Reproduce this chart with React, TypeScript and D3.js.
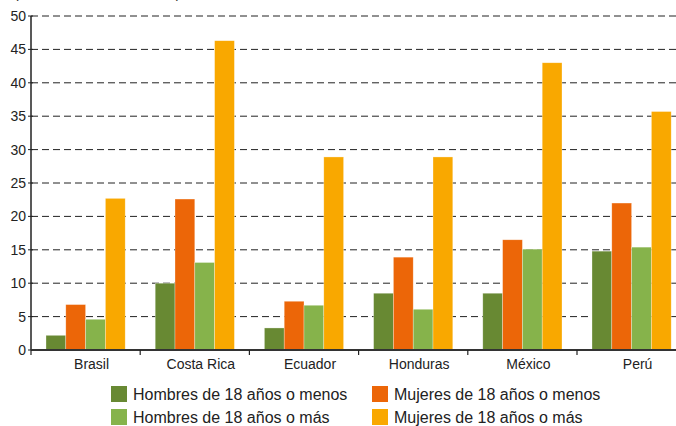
import React from "react";
import * as d3 from "d3";

const countries = ["Brasil", "Costa Rica", "Ecuador", "Honduras", "México", "Perú"];
const seriesNames = [
  "Hombres de 18 años o menos",
  "Mujeres de 18 años o menos",
  "Hombres de 18 años o más",
  "Mujeres de 18 años o más",
];
const hombresMenos = [2.2, 10.0, 3.3, 8.5, 8.5, 14.8];
const mujeresMenos = [6.8, 22.6, 7.3, 13.9, 16.5, 22.0];
const hombresMas = [4.6, 13.1, 6.7, 6.1, 15.1, 15.4];
const mujeresMas = [22.7, 46.3, 28.9, 28.9, 43.0, 35.7];
const yTicks = [0, 5, 10, 15, 20, 25, 30, 35, 40, 45, 50];
const colors = ["#688933", "#EC6608", "#86B34B", "#F9A800"];
const title = "(En tasas de victimización)";

const W = 676;
const H = 426;
const left = 31;
const bandW = 109.2;
const top = 16;
const bottom = 350;

export default function App() {
  const series = [hombresMenos, mujeresMenos, hombresMas, mujeresMas];
  const x = d3
    .scaleBand<string>()
    .domain(countries)
    .range([left, left + bandW * countries.length])
    .paddingInner(0)
    .paddingOuter(0);
  const inner = d3
    .scaleBand<number>()
    .domain([0, 1, 2, 3])
    .range([15, bandW - 15]);
  const y = d3.scaleLinear().domain([0, 50]).range([bottom, top]);
  const font = "'Liberation Sans', Arial, sans-serif";

  return (
    <svg
      width={W}
      height={H}
      style={{ position: "absolute", left: 0, top: 0, background: "#fff" }}
      fontFamily={font}
    >
      <text x={14} y={-2} fontSize={14} fill="#222">
        {title}
      </text>
      {/* gridlines */}
      {yTicks.map((t) =>
        t === 0 ? null : (
          <line
            key={"g" + t}
            x1={left}
            x2={W}
            y1={y(t)}
            y2={y(t)}
            stroke="#222"
            strokeWidth={1}
            strokeDasharray="7,4"
          />
        )
      )}
      {/* bars */}
      {countries.map((c, i) => (
        <g key={c} transform={`translate(${x(c)},0)`}>
          {series.map((s, j) => (
            <rect
              key={j}
              x={inner(j)}
              y={y(s[i])}
              width={inner.bandwidth()}
              height={bottom - y(s[i])}
              fill={colors[j]}
              stroke="#fff"
              strokeOpacity={0.5}
              strokeWidth={0.6}
            />
          ))}
        </g>
      ))}
      {/* y axis */}
      <line x1={left} x2={left} y1={top} y2={bottom} stroke="#222" strokeWidth={1.5} />
      {yTicks.map((t) => (
        <g key={"t" + t}>
          <line x1={left - 3} x2={left + 2} y1={y(t)} y2={y(t)} stroke="#222" strokeWidth={1} />
          <text
            x={left - 5}
            y={y(t)}
            dy="0.35em"
            textAnchor="end"
            fontSize={14}
            fill="#222"
          >
            {t}
          </text>
        </g>
      ))}
      {/* x axis */}
      <line x1={left} x2={W} y1={bottom} y2={bottom} stroke="#333" strokeWidth={2} />
      {countries.map((c, i) => (
        <line
          key={"xt" + c}
          x1={left + bandW * i}
          x2={left + bandW * i}
          y1={bottom}
          y2={bottom + 5}
          stroke="#222"
          strokeWidth={1.2}
        />
      ))}
      {countries.map((c) => (
        <text
          key={"xl" + c}
          x={(x(c) as number) + x.bandwidth() / 2 + 6}
          y={369}
          textAnchor="middle"
          fontSize={14}
          fill="#222"
        >
          {c}
        </text>
      ))}
      {/* legend */}
      {seriesNames.map((n, j) => {
        const col = j % 2;
        const row = Math.floor(j / 2);
        const lx = col === 0 ? 111 : 372;
        const ly = row === 0 ? 386 : 409;
        return (
          <g key={n}>
            <rect x={lx} y={ly} width={16} height={16} fill={colors[j]} />
            <text x={lx + 22} y={ly + 14} fontSize={16} fill="#222">
              {n}
            </text>
          </g>
        );
      })}
    </svg>
  );
}
